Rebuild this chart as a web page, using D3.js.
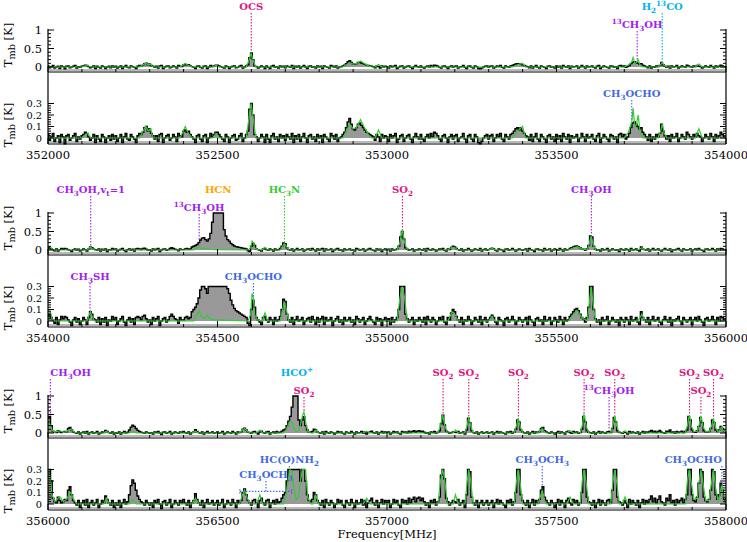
<!DOCTYPE html>
<html>
<head>
<meta charset="utf-8">
<script src="https://d3js.org/d3.v7.min.js"></script>
<style>
  body { margin: 0; background: #fff; }
  text { font-family: "DejaVu Serif", serif; }
</style>
</head>
<body>
<div id="chart"></div>
<script>
// first channel of each strip, channel width (MHz)
const rowStart = [352000, 354000, 356000];
const chanStep = 5;

// observed spectrum, one value per 5 MHz channel, in units of 0.01 K
const spec1 = [
  3,-2,1,4,-3,0,2,-4,3,1,-5,2,3,-2,0,2,4,-3,1,-1,
  2,3,5,4,1,-2,0,3,-4,2,-1,-3,3,1,-4,0,2,-2,3,-1,
  2,-3,0,3,-4,1,4,-1,-2,3,1,-1,-4,2,4,3,5,9,10,6,
  8,4,2,-1,2,-3,3,4,-4,0,2,3,-2,0,3,1,-3,4,2,1,
  6,7,5,6,3,1,-1,-4,2,3,-1,-3,2,3,-4,0,4,1,3,5,
  5,3,1,-1,-3,3,1,-4,0,2,3,-2,-1,2,4,-3,0,3,6,25,
  38,20,3,1,-3,0,3,1,-4,3,-1,-4,2,4,-1,1,-3,3,0,2,
  -2,3,1,-1,4,-4,2,-1,3,-3,1,4,0,-4,2,3,-1,1,-3,3,
  0,2,-4,3,1,-1,-3,4,2,-1,3,-3,0,1,3,5,9,14,17,12,
  8,7,9,12,13,11,9,7,5,4,3,2,1,-2,3,1,-3,3,0,2,
  1,-3,3,0,2,4,-4,-1,2,3,-3,0,2,3,-1,-4,1,4,1,-1,
  3,-1,-3,1,3,0,4,1,5,4,2,-1,-3,2,3,0,-4,1,3,-1,
  2,3,-3,0,1,4,-1,-4,2,3,-1,-3,3,1,-4,-5,-3,0,2,3,
  -1,2,3,-3,0,3,1,4,-1,-3,3,1,-1,3,4,6,8,9,7,9,
  6,4,2,1,-2,3,-3,1,4,-1,-3,3,1,-1,-4,2,3,-1,1,-3,
  3,-1,2,-3,4,1,-1,3,-4,2,0,1,3,-3,0,4,1,-3,3,0,
  1,3,-1,-3,2,4,-4,0,3,1,-1,-3,3,2,-1,1,-4,3,4,1,
  3,-1,1,4,9,13,14,12,10,8,9,5,3,1,-2,3,-3,1,-1,3,
  1,4,12,6,2,-1,2,-3,3,0,1,4,-3,0,3,1,-1,5,3,1,
  -1,3,1,4,2,1,-3,0,3,1,-1,4,1,-3,3,0,2,5,3,1,
  0
];
const spec2 = [
  5,6,3,1,-2,3,-3,1,4,2,4,3,1,-1,-4,1,3,-1,2,-3,
  0,3,1,-3,3,8,6,2,1,-1,3,-3,2,-1,3,-4,1,0,4,1,
  3,-3,0,2,4,-1,-4,1,3,-1,2,-3,3,4,3,1,4,5,2,-1,
  1,-3,3,0,2,4,-4,0,2,3,-1,1,4,6,4,2,1,-2,3,1,
  1,3,4,2,3,8,10,12,15,20,27,32,33,28,24,30,45,75,120,130,
  130,130,130,115,55,38,28,24,18,14,11,9,8,7,6,5,4,3,-2,-4,
  10,18,12,3,1,-1,-3,3,4,1,-1,3,1,-3,3,0,1,4,10,19,
  17,6,1,-1,3,-3,1,4,0,1,3,-3,0,2,3,-1,4,1,-3,3,
  -1,2,4,-3,3,0,1,3,-4,0,2,4,-1,1,-3,3,0,1,3,-1,
  1,-3,4,2,-1,1,3,-3,0,2,4,1,-1,-3,3,0,2,-4,1,3,
  0,2,-3,3,-1,1,3,10,35,50,30,6,2,-1,1,3,-3,1,0,3,
  1,-1,3,-3,4,1,-1,3,1,-3,0,3,1,4,-1,-3,3,1,7,10,
  8,4,1,-1,3,-3,1,0,4,1,-3,0,3,1,-1,4,-3,1,3,-1,
  1,3,5,3,-1,-3,3,1,0,-4,2,3,-1,1,4,1,-3,0,3,1,
  -1,1,3,-3,4,1,-1,-4,2,3,0,1,-3,4,0,1,3,-3,0,3,
  1,-1,4,1,-3,3,0,1,4,6,8,10,11,9,6,3,2,-1,3,12,
  38,35,10,2,-1,1,-3,3,0,1,4,-3,0,3,1,-1,1,-4,3,1,
  -1,3,1,-3,4,0,1,3,-1,-3,8,3,1,-1,3,-3,1,4,0,1,
  3,-1,-3,1,4,1,-1,3,-4,1,0,2,4,0,-3,3,1,-1,1,3,
  -3,1,3,0,4,1,-1,-4,2,3,0,1,4,1,-3,3,0,4,3,1,
  1
];
const spec3 = [
  40,45,20,5,2,1,6,3,1,2,4,3,12,15,8,3,1,-1,3,-3,
  1,3,-1,4,-3,1,3,-1,1,4,-3,0,3,1,7,4,1,-1,3,-3,
  1,-1,3,-3,1,4,0,2,8,16,21,18,12,7,4,2,1,-1,3,1,
  -1,1,-3,3,1,4,0,-4,2,3,-1,1,4,-3,0,3,1,-1,3,1,
  4,1,-1,3,-3,1,3,9,4,1,-1,3,-3,1,4,0,1,3,-1,1,
  3,-1,1,4,-3,0,3,1,-1,4,1,-3,3,1,3,10,13,8,3,1,
  -1,3,4,1,-3,3,5,1,-1,3,4,-3,1,3,0,4,1,2,5,8,
  10,20,32,45,70,130,130,110,35,20,35,44,20,8,3,2,4,10,8,3,
  1,-1,3,-3,4,1,-1,3,1,-3,0,4,1,3,-1,-3,3,1,-1,4,
  1,-3,3,0,1,4,-1,3,-3,1,3,5,1,-1,3,-3,1,4,0,3,
  1,3,-3,0,4,1,3,-1,-3,4,1,3,0,5,1,4,6,2,5,6,
  3,5,2,-1,1,-3,3,1,4,-1,2,6,25,48,22,5,2,-1,1,3,
  2,1,4,-1,1,3,-3,8,40,28,6,1,-1,3,-3,1,3,-1,1,3,
  -1,1,3,-3,1,4,0,3,1,-1,-3,3,1,4,-1,2,10,35,30,8,
  3,1,-1,3,-3,1,4,-1,3,1,4,12,15,6,3,1,-1,3,1,-3,
  1,4,-1,3,1,-3,3,5,1,-1,4,1,3,-1,1,10,45,30,6,2,
  1,-1,3,-3,1,4,-1,3,1,-1,3,4,1,12,42,30,6,2,1,-1,
  3,1,-3,4,0,3,1,-1,3,-3,1,4,0,3,1,4,7,2,5,1,
  4,7,2,1,-1,5,3,8,1,3,-1,4,1,3,5,1,4,8,45,35,
  8,3,2,6,18,42,28,6,3,2,4,12,35,28,8,4,8,18,12,5,
  3
];

// model spectrum (green), [MHz, 0.01 K]
const model1 = [
  [352000,0],[352100,0],[352110,3],[352118,4],[352126,0],[352270,0],[352282,7],[352288,10],
  [352296,6],[352302,8],[352310,0],[352390,0],[352400,7],[352405,10],[352412,5],[352425,0],
  [352485,0],[352495,4],[352505,0],[352585,0],[352593,18],[352599,37],[352605,18],[352613,0],
  [352870,0],[352880,6],[352890,12],[352900,8],[352910,9],[352922,16],[352932,10],[352945,3],
  [352955,0],[352965,0],[352975,7],[352985,0],[353370,0],[353385,6],[353400,10],[353408,0],
  [353700,0],[353712,5],[353722,14],[353726,26],[353731,10],[353736,12],[353741,20],[353746,6],
  [353755,0],[353800,0],[353807,6],[353812,12],[353818,4],[353825,0],[353910,0],[353920,8],
  [353930,0],[354000,0]
];
const model2 = [
  [354000,9],[354006,9],[354012,2],[354020,0],[354115,0],[354120,4],[354125,8],[354130,4],
  [354137,0],[354430,0],[354440,6],[354446,9],[354452,4],[354462,2],[354470,5],[354477,2],
  [354490,1],[354590,0],[354598,6],[354602,24],[354606,20],[354610,5],[354618,1],[354632,0],
  [354640,7],[354648,0],[354685,0],[354692,10],[354697,17],[354703,10],[354710,0],[355030,0],
  [355038,20],[355045,55],[355052,20],[355060,0],[355180,0],[355192,8],[355200,6],[355210,0],
  [355300,0],[355310,4],[355318,0],[355535,0],[355550,6],[355562,9],[355575,3],[355590,0],
  [355595,10],[355602,38],[355608,15],[355615,0],[355740,0],[355752,6],[355760,0],[356000,0]
];
const model3 = [
  [356000,30],[356005,25],[356012,8],[356020,2],[356030,5],[356036,6],[356045,2],[356055,4],
  [356063,9],[356068,10],[356075,4],[356085,0],[356165,0],[356172,5],[356180,0],[356240,0],
  [356250,4],[356260,0],[356425,0],[356435,5],[356445,0],[356565,0],[356574,8],[356580,12],
  [356587,6],[356595,0],[356615,0],[356625,8],[356633,0],[356695,0],[356702,8],[356708,20],
  [356714,32],[356720,28],[356726,12],[356732,4],[356738,5],[356744,18],[356750,45],[356755,57],
  [356760,30],[356766,6],[356775,0],[356782,0],[356790,8],[356798,0],[356930,0],[356940,5],
  [356950,0],[357150,0],[357158,20],[357164,50],[357170,22],[357178,0],[357195,0],[357202,8],
  [357210,0],[357230,0],[357236,18],[357241,42],[357247,20],[357254,0],[357375,0],[357382,20],
  [357387,40],[357393,18],[357400,0],[357445,0],[357452,6],[357458,12],[357464,4],[357470,0],
  [357530,0],[357540,6],[357550,0],[357570,0],[357576,20],[357581,52],[357587,20],[357595,0],
  [357660,0],[357666,18],[357672,48],[357678,18],[357685,0],[357695,0],[357702,6],[357710,0],
  [357880,0],[357886,20],[357892,48],[357898,18],[357905,4],[357915,5],[357920,18],[357926,46],
  [357932,18],[357940,3],[357950,3],[357957,18],[357963,40],[357969,15],[357976,3],[357982,8],
  [357987,16],[357993,6],[358000,2]
];

// line identifications: row, panel, frequency (MHz), label, species group, label level
const lineIds = [
  [0, "top", 352599.6, "OCS", "sulphur", 0],
  [0, "top", 353738, "^{13}CH_{3}OH", "methanol", 1],
  [0, "top", 353811.9, "H_{2}^{13}CO", "ion", 0],
  [0, "low", 353722, "CH_{3}OCHO", "com", 0],
  [1, "top", 354126, "CH_{3}OH,v_{t}=1", "methanol", 0],
  [1, "top", 354445.9, "^{13}CH_{3}OH", "methanol", 1],
  [1, "top", 354502, "HCN", "hcn", 0],
  [1, "top", 354697.5, "HC_{3}N", "hc3n", 0],
  [1, "top", 355045.5, "SO_{2}", "sulphur", 0],
  [1, "top", 355602.9, "CH_{3}OH", "methanol", 0],
  [1, "low", 354124, "CH_{3}SH", "methanol", 0],
  [1, "low", 354606, "CH_{3}OCHO", "com", 0],
  [2, "top", 356007, "CH_{3}OH", "methanol", 0],
  [2, "top", 356734.2, "HCO^{+}", "ion", 0],
  [2, "top", 356755.2, "SO_{2}", "sulphur", 1],
  [2, "top", 357165.4, "SO_{2}", "sulphur", 0],
  [2, "top", 357241.2, "SO_{2}", "sulphur", 0],
  [2, "top", 357387.6, "SO_{2}", "sulphur", 0],
  [2, "top", 357581.4, "SO_{2}", "sulphur", 0],
  [2, "top", 357655, "^{13}CH_{3}OH", "methanol", 1],
  [2, "top", 357671.8, "SO_{2}", "sulphur", 0],
  [2, "top", 357892.4, "SO_{2}", "sulphur", 0],
  [2, "top", 357926, "SO_{2}", "sulphur", 1],
  [2, "top", 357963.3, "SO_{2}", "sulphur", 0],
  [2, "low", 356712, "HC(O)NH_{2}", "com", 0],
  [2, "low", 356643, "CH_{3}OCH_{3}", "com", 1],
  [2, "low", 357458, "CH_{3}OCH_{3}", "com", 0],
  [2, "low", 357988, "CH_{3}OCHO", "com", 0]
];
// lines whose peak runs off the top: no marker
const noMarker = ["HCN", "HCO^{+}"];
// CH3OCH3 blend covers this range
const blendSpan = [356566, 356719];

const specs = [spec1, spec2, spec3];
const models = [model1, model2, model3];

const colour = {
  sulphur: "#e0157f", methanol: "#a020f0", ion: "#00b2ee",
  hcn: "#ffa500", hc3n: "#33cc33", com: "#4169e1"
};

const W = 747, H = 542, xL = 48, xR = 726;
const svg = d3.select("#chart").append("svg").attr("width", W).attr("height", H);

function rich(t, s, sub) {
  const parts = s.match(/_\{[^}]*\}|\^\{[^}]*\}|[^_^]+/g);
  let shift = 0;
  parts.forEach(p => {
    let txt = p, target = 0, small = false;
    if (p[0] === "_") { txt = p.slice(2, -1); target = 3; small = true; }
    else if (p[0] === "^") { txt = p.slice(2, -1); target = -4; small = true; }
    const ts = t.append("tspan").attr("dy", target - shift).text(txt);
    if (small) ts.style("font-size", sub || "0.72em");
    shift = target;
  });
}

function modelAt(m, f) {
  for (let i = 1; i < m.length; i++) {
    if (m[i][0] >= f) {
      const a = m[i - 1], b = m[i];
      return (a[1] + (b[1] - a[1]) * (f - a[0]) / (b[0] - a[0])) / 100;
    }
  }
  return 0;
}

rowStart.forEach((f0, ri) => {
  const y1 = 30 + 183 * ri;
  const x = d3.scaleLinear().domain([f0, f0 + 2000]).range([xL, xR]);
  const spec = specs[ri].map((v, i) => ({ f: f0 + i * chanStep, v: v / 100 }));
  const model = models[ri].map(d => ({ f: d[0], v: d[1] / 100 }));
  const g = svg.append("g");

  const panels = {
    top: { y: d3.scaleLinear().domain([0, 1]).range([y1 + 37, y1]), lo: -0.13, hi: 1,
           bottom: y1 + 42, majors: [0, 0.5, 1], minor: d3.range(0, 1.001, 0.1),
           fmt: d => d === 0.5 ? "0.5" : String(d), title: y1 + 15, fs: 11.5 },
    low: { y: d3.scaleLinear().domain([0, 0.3]).range([y1 + 108, y1 + 73.5]), lo: -0.05, hi: 0.3,
           bottom: y1 + 114, majors: [0, 0.1, 0.2, 0.3], minor: d3.range(0, 0.301, 0.02),
           fmt: d => d === 0 ? "0" : d.toFixed(1), title: y1 + 95, fs: 9.8 }
  };

  Object.values(panels).forEach(p => {
    const cl = v => Math.max(p.lo, Math.min(p.hi, v));
    // grey strip above the lower frame
    g.append("line").attr("x1", xL).attr("x2", xR)
      .attr("y1", p.bottom - 2).attr("y2", p.bottom - 2)
      .attr("stroke", "#b8b8b8").attr("stroke-width", 2);

    g.append("path").datum(spec)
      .attr("d", d3.area().curve(d3.curveStep)
        .x(d => x(d.f)).y0(p.y(0)).y1(d => p.y(cl(d.v))))
      .attr("fill", "#999");
    g.append("path").datum(spec)
      .attr("d", d3.line().curve(d3.curveStep).x(d => x(d.f)).y(d => p.y(cl(d.v))))
      .attr("fill", "none").attr("stroke", "#000").attr("stroke-width", 1.4);
    g.append("path").datum(model)
      .attr("d", d3.line().x(d => x(d.f)).y(d => p.y(cl(d.v))))
      .attr("fill", "none").attr("stroke", "#33cc33").attr("stroke-width", 1.2);

    // frame bottom with inward ticks
    g.append("line").attr("x1", xL).attr("x2", xR)
      .attr("y1", p.bottom).attr("y2", p.bottom).attr("stroke", "#000").attr("stroke-width", 1.2);
    d3.range(f0, f0 + 2001, 100).forEach(f => {
      const len = (f % 500 === 0) ? 6 : 3;
      g.append("line").attr("x1", x(f)).attr("x2", x(f))
        .attr("y1", p.bottom).attr("y2", p.bottom - len).attr("stroke", "#000");
    });
    // y ticks on both sides
    p.minor.forEach(v => {
      const major = p.majors.some(m => Math.abs(m - v) < 1e-6);
      const len = major ? 6 : 3;
      const yy = p.y(v);
      g.append("line").attr("x1", xL).attr("x2", xL + len).attr("y1", yy).attr("y2", yy).attr("stroke", "#000");
      g.append("line").attr("x1", xR).attr("x2", xR - len).attr("y1", yy).attr("y2", yy).attr("stroke", "#000");
    });
    p.majors.forEach(v => {
      g.append("text").attr("x", 42).attr("y", p.y(v)).attr("dy", "0.36em")
        .attr("text-anchor", "end").attr("font-size", p.fs).text(p.fmt(v));
    });
    const tt = g.append("text").attr("text-anchor", "middle").attr("font-size", 11.5)
      .attr("transform", `translate(12,${p.title}) rotate(-90)`);
    rich(tt, "T_{mb} [K]", "0.85em");
  });

  // side frame
  [xL, xR].forEach(xx => g.append("line").attr("x1", xx).attr("x2", xx)
    .attr("y1", y1 - 1).attr("y2", y1 + 114).attr("stroke", "#000").attr("stroke-width", 1.2));

  d3.range(f0, f0 + 2001, 500).forEach(f => {
    g.append("text").attr("x", x(f)).attr("y", y1 + 129).attr("text-anchor", "middle")
      .attr("font-size", 11.5).text(f);
  });

  // line identifications
  lineIds.filter(d => d[0] === ri).forEach(([, pn, f, lab, grp, lvl]) => {
    const p = panels[pn];
    const c = colour[grp];
    const base = pn === "top" ? (lvl ? y1 - 2 : y1 - 20) : (lvl ? y1 + 82 : y1 + 67);
    const t = g.append("text").attr("x", x(f)).attr("y", base).attr("text-anchor", "middle")
      .attr("font-size", 10).attr("font-weight", "bold").attr("fill", c);
    rich(t, lab);
    const bb = t.node().getBBox();
    if (bb.x < xL) t.attr("text-anchor", "start");
    if (bb.x + bb.width > xR) t.attr("text-anchor", "end");
    if (noMarker.includes(lab)) return;
    const dotted = sel => sel.attr("stroke", c).attr("stroke-width", 1.1).attr("stroke-dasharray", "1.5,1.5");
    if (pn === "low" && lvl === 1) {
      const yb = p.y(0.11);
      dotted(g.append("line").attr("x1", x(f)).attr("x2", x(f)).attr("y1", base + 3).attr("y2", yb));
      dotted(g.append("line").attr("x1", x(blendSpan[0])).attr("x2", x(blendSpan[1])).attr("y1", yb).attr("y2", yb));
      blendSpan.forEach(s => dotted(g.append("line").attr("x1", x(s)).attr("x2", x(s)).attr("y1", yb - 2).attr("y2", yb + 4)));
      return;
    }
    const ch = spec[Math.round((f - f0) / chanStep)];
    const v = Math.max(ch ? ch.v : 0, modelAt(models[ri], f));
    const yEnd = p.y(Math.min(p.hi, v)) - 1;
    dotted(g.append("line").attr("x1", x(f)).attr("x2", x(f)).attr("y1", base + 3).attr("y2", yEnd));
  });
});

svg.append("text").attr("x", 387).attr("y", 538).attr("text-anchor", "middle")
  .attr("font-size", 11.5).text("Frequency[MHz]");
</script>
</body>
</html>
